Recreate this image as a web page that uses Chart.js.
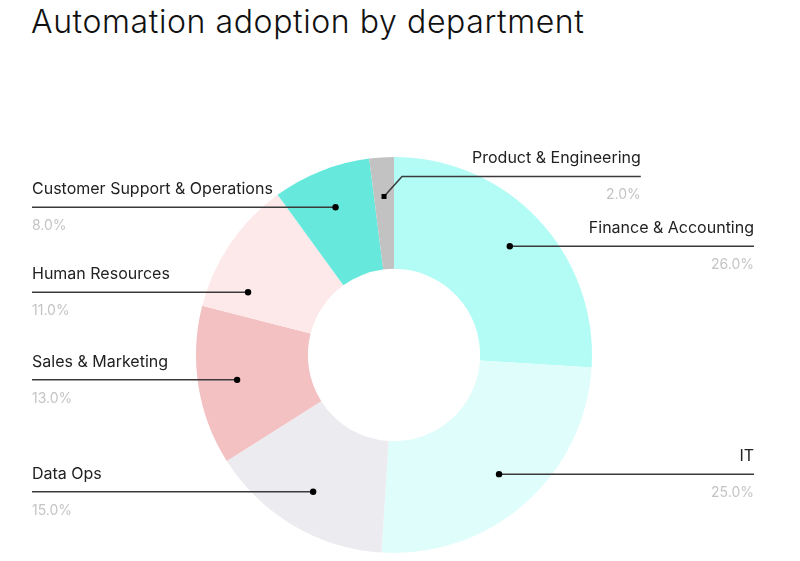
<!DOCTYPE html>
<html>
<head>
<meta charset="utf-8">
<script src="https://cdn.jsdelivr.net/npm/chart.js@4.4.0/dist/chart.umd.min.js"></script>
<style>
  body { margin: 0; background: #fff; }
  #wrap { position: relative; width: 800px; height: 561px; }
  h1 { position: absolute; left: 31px; top: 0; margin: 0; font: 300 32px Inter, sans-serif; color: #111; line-height: 44px; letter-spacing: 0.6px; }
  canvas { position: absolute; left: 0; top: 0; }
</style>
</head>
<body>
<div id="wrap">
  <h1>Automation adoption by department</h1>
  <canvas id="chart" width="800" height="561"></canvas>
</div>
<script>
const departments = ['Finance & Accounting', 'IT', 'Data Ops', 'Sales & Marketing', 'Human Resources', 'Customer Support & Operations', 'Product & Engineering']
const shares = [26, 25, 15, 13, 11, 8, 2]
const sliceColors = ['#b3fcf5', '#dffdfb', '#ececf0', '#f3c1c2', '#fde9e9', '#66e9dc', '#c2c2c2']

const LEFT_X = 32
const RIGHT_X = 754
const MIN_GAP = 85

// leader lines + labels drawn over the ring
const callouts = {
  id: 'callouts',
  afterDatasetsDraw(chart) {
    const ctx = chart.ctx
    const arcs = chart.getDatasetMeta(0).data
    const items = arcs.map((arc, i) => {
      const p = arc.getProps(['x', 'y', 'startAngle', 'endAngle', 'innerRadius', 'outerRadius'], true)
      const mid = (p.startAngle + p.endAngle) / 2
      const r = p.innerRadius + (p.outerRadius - p.innerRadius) * 0.65
      const small = shares[i] < 5
      return {
        i, p, r, small, mid,
        ax: p.x + Math.cos(mid) * r,
        ay: p.y + Math.sin(mid) * r,
        right: small || Math.cos(mid) >= 0
      }
    })

    // push labels apart on each side, then slide the dot along the ring to the line
    ;[true, false].forEach(side => {
      const list = items.filter(it => !it.small && it.right === side).sort((a, b) => a.ay - b.ay)
      let last = -Infinity
      list.forEach(it => {
        const ly = Math.max(it.ay, last + MIN_GAP)
        if (ly !== it.ay) {
          const dy = ly - it.p.y
          const dx = Math.sqrt(Math.max(0, it.r * it.r - dy * dy))
          it.ax = it.p.x + (side ? dx : -dx)
          it.ay = ly
        }
        last = ly
      })
    })

    ctx.save()
    items.forEach(it => {
      const label = departments[it.i]
      const pct = shares[it.i].toFixed(1) + '%'
      const { ax, ay, right, small } = it

      ctx.font = '400 16px Inter, sans-serif'
      const tw = ctx.measureText(label).width
      let ly = ay, x1
      ctx.strokeStyle = '#3a3a3a'
      ctx.lineWidth = 1.5
      ctx.beginPath()
      ctx.moveTo(ax, ay)
      if (small) {
        const ex = ax + 18, ey = ay - 20
        ctx.lineTo(ex, ey)
        x1 = ex + tw + 70
        ly = ey
        ctx.lineTo(x1, ly)
      } else {
        x1 = right ? RIGHT_X : LEFT_X
        ctx.lineTo(x1, ay)
      }
      ctx.stroke()

      ctx.fillStyle = '#000'
      if (small) {
        ctx.fillRect(ax - 2.5, ay - 2.5, 5, 5)
      } else {
        ctx.beginPath()
        ctx.arc(ax, ay, 3.2, 0, Math.PI * 2)
        ctx.fill()
      }

      ctx.textAlign = right ? 'right' : 'left'
      const tx = right ? x1 : LEFT_X
      ctx.textBaseline = 'alphabetic'
      ctx.fillStyle = '#222'
      ctx.font = '400 16px Inter, sans-serif'
      ctx.fillText(label, tx, ly - 13)
      ctx.fillStyle = '#c4c4c4'
      ctx.font = '400 14px Inter, sans-serif'
      ctx.fillText(pct, tx, ly + 23)
    })
    ctx.restore()
  }
}

new Chart(document.getElementById('chart'), {
  type: 'doughnut',
  data: {
    labels: departments,
    datasets: [{
      data: shares,
      backgroundColor: sliceColors,
      borderWidth: 0,
      hoverOffset: 0
    }]
  },
  options: {
    responsive: false,
    animation: false,
    cutout: '43.5%',
    layout: { padding: { top: 157, bottom: 8, left: 0, right: 12 } },
    plugins: {
      legend: { display: false },
      title: { display: false },
      tooltip: { enabled: false }
    }
  },
  plugins: [callouts]
})
</script>
</body>
</html>
